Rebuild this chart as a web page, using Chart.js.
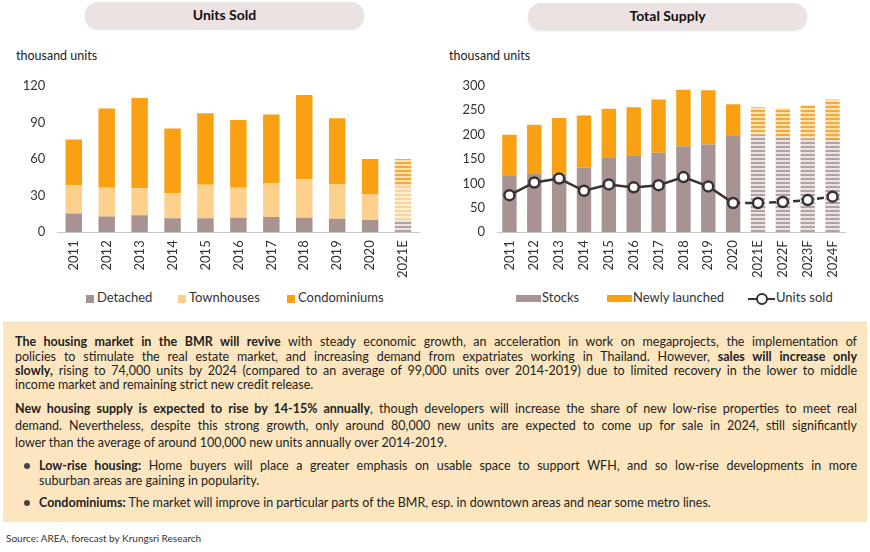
<!DOCTYPE html>
<html>
<head>
<meta charset="utf-8">
<script src="https://cdn.jsdelivr.net/npm/chart.js@4.4.0/dist/chart.umd.min.js"></script>
<style>
  body { margin: 0; width: 870px; height: 552px; background: #fff; font-family: Lato, "Open Sans", sans-serif; color: #222; position: relative; overflow: hidden; }
  .pill { position: absolute; height: 26px; border-radius: 13px; background: #ebe2e1; box-shadow: 0 2px 2px rgba(0,0,0,0.12); font-weight: bold; font-size: 14px; text-align: center; line-height: 26px; color: #111; }
  .unit { position: absolute; font-size: 12.5px; color: #222; }
  .box { position: absolute; }
  .legend { position: absolute; font-size: 13px; color: #333; white-space: nowrap; }
  .legend span.sw { display: inline-block; vertical-align: middle; margin-right: 3px; }
  .panel { position: absolute; left: 3px; top: 322px; width: 864px; height: 199px; background: #fde6bf; border-top: 1px solid #efdcc0; }
  .ln { position: absolute; white-space: nowrap; font-size: 12.5px; }
  .just { text-align-last: justify; text-align: justify; }
  .dot { position: absolute; width: 6px; height: 6px; border-radius: 3px; background: #444; }
  .src { position: absolute; left: 6px; top: 532px; font-size: 10px; color: #333; }
</style>
</head>
<body>
<div class="pill" style="left:85px; top:2px; width:279px;">Units Sold</div>
<div class="pill" style="left:528px; top:3px; width:279px;">Total Supply</div>
<div class="unit" style="left:16px; top:48px;">thousand units</div>
<div class="unit" style="left:449px; top:48px;">thousand units</div>

<div class="box" style="left:0; top:66px; width:430px; height:214px;"><canvas id="soldChart"></canvas></div>
<div class="box" style="left:435px; top:66px; width:435px; height:214px;"><canvas id="supplyChart"></canvas></div>

<div class="legend" style="left:86px; top:289px;"><span class="sw" style="width:8px;height:8px;background:#a89393;"></span>Detached</div>
<div class="legend" style="left:178px; top:289px;"><span class="sw" style="width:8px;height:8px;background:#fdd08c;"></span>Townhouses</div>
<div class="legend" style="left:287px; top:289px;"><span class="sw" style="width:8px;height:8px;background:#f9a013;"></span>Condominiums</div>

<div class="legend" style="left:516px; top:289px;"><span class="sw" style="width:25px;height:7px;background:#a89393;margin-right:1px;"></span>Stocks</div>
<div class="legend" style="left:607px; top:289px;"><span class="sw" style="width:25px;height:7px;background:#f9a013;margin-right:1px;"></span>Newly launched</div>
<div class="legend" style="left:748px; top:289px;"><span class="sw" style="width:27px;height:16px;margin-right:1px;position:relative;"><span style="position:absolute;left:0;top:7px;width:27px;height:2.5px;background:#3a3232;"></span><span style="position:absolute;left:8px;top:2px;width:8px;height:8px;border:2.5px solid #3a3232;border-radius:7px;background:#fff;"></span></span>Units sold</div>

<div class="panel"></div>
<div class="ln just" style="left:15px; top:334px; width:842px;"><b>The housing market in the BMR will revive</b> with steady economic growth, an acceleration in work on megaprojects, the implementation of</div>
<div class="ln just" style="left:15px; top:349px; width:842px;">policies to stimulate the real estate market, and increasing demand from expatriates working in Thailand. However, <b>sales will increase only</b></div>
<div class="ln just" style="left:15px; top:363px; width:842px;"><b>slowly,</b> rising to 74,000 units by 2024 (compared to an average of 99,000 units over 2014-2019) due to limited recovery in the lower to middle</div>
<div class="ln" style="left:15px; top:377px;">income market and remaining strict new credit release.</div>

<div class="ln just" style="left:15px; top:401px; width:842px;"><b>New housing supply is expected to rise by 14-15% annually</b>, though developers will increase the share of new low-rise properties to meet real</div>
<div class="ln just" style="left:15px; top:418px; width:842px;">demand. Nevertheless, despite this strong growth, only around 80,000 new units are expected to come up for sale in 2024, still significantly</div>
<div class="ln" style="left:15px; top:435px;">lower than the average of around 100,000 new units annually over 2014-2019.</div>

<div class="dot" style="left:24px; top:463px;"></div>
<div class="ln just" style="left:39px; top:458px; width:818px;"><b>Low-rise housing:</b> Home buyers will place a greater emphasis on usable space to support WFH, and so low-rise developments in more</div>
<div class="ln" style="left:39px; top:473px;">suburban areas are gaining in popularity.</div>
<div class="dot" style="left:24px; top:500px;"></div>
<div class="ln" style="left:39px; top:495px;"><b>Condominiums:</b> The market will improve in particular parts of the BMR, esp. in downtown areas and near some metro lines.</div>

<div class="src">Source: AREA, forecast by Krungsri Research</div>

<script>
var soldYears = ["2011", "2012", "2013", "2014", "2015", "2016", "2017", "2018", "2019", "2020", "2021E"];
var detached = [15.5, 13, 14, 11.5, 11.5, 12, 12.5, 12, 11, 10, 10];
var townhouses = [23, 23.5, 22, 20.5, 27.5, 24.5, 27.5, 31.5, 28.5, 21, 28];
var condominiums = [37.5, 65, 74, 53, 58.5, 55.5, 56.5, 69, 54, 29, 22];
var soldTicks = [0, 30, 60, 90, 120];

var supplyYears = ["2011", "2012", "2013", "2014", "2015", "2016", "2017", "2018", "2019", "2020", "2021E", "2022F", "2023F", "2024F"];
var stocks = [117, 121, 120, 132, 152, 156, 163, 176, 180, 197, 200, 193, 192, 191];
var newlyLaunched = [83, 99, 114, 107, 101, 100, 109, 116, 111, 65, 56, 61, 68, 81];
var unitsSold = [76, 102, 110, 85, 98, 92, 96.5, 113, 94, 60, 60, 62, 66, 73];
var supplyTicks = [0, 50, 100, 150, 200, 250, 300];

// fit the justified lines: squeeze letters when the font runs wider than the box
document.querySelectorAll(".ln.just").forEach(function (el) {
    var w = parseFloat(el.style.width);
    var probe = document.createElement("span");
    probe.innerHTML = el.innerHTML;
    probe.style.cssText = "position:absolute;visibility:hidden;white-space:nowrap;font-size:12.5px;";
    document.body.appendChild(probe);
    var natural = probe.getBoundingClientRect().width;
    var chars = probe.textContent.length;
    document.body.removeChild(probe);
    if (natural > w - 4) {
        el.style.letterSpacing = ((w - 4 - natural) / chars) + "px";
    }
});

function stripes(color, light) {
    var c = document.createElement("canvas");
    c.width = 4; c.height = 4;
    var g = c.getContext("2d");
    g.fillStyle = light; g.fillRect(0, 0, 4, 4);
    g.fillStyle = color; g.fillRect(0, 0, 4, 2);
    return g.createPattern(c, "repeat");
}

var TAUPE = "#a89393", LIGHT = "#fdd08c", ORANGE = "#f9a013";
var taupeStripe = stripes("#b3a2a2", "#ebe3e3");
var lightStripe = stripes("#fdd39a", "#fff0da");
var orangeStripe = stripes("#f9a834", "#fde2b5");

function fill(color, pattern, from) {
    return function (ctx) { return ctx.dataIndex >= from ? pattern : color; };
}

Chart.defaults.font.family = "Lato, 'Open Sans', sans-serif";
Chart.defaults.font.size = 13;
Chart.defaults.color = "#333";

function axes(ticks, yWidth) {
    return {
        x: {
            stacked: true,
            grid: { display: false, drawTicks: false },
            border: { color: "#c8c8c8" },
            ticks: { minRotation: 90, maxRotation: 90, padding: 8, autoSkip: false },
            afterFit: function (s) { s.height = 47.7; }
        },
        y: {
            stacked: true,
            min: 0,
            max: ticks[ticks.length - 1],
            afterBuildTicks: function (s) { s.ticks = ticks.map(function (v) { return { value: v }; }); },
            grid: { display: false, drawTicks: false },
            border: { display: false },
            ticks: { padding: 12 },
            afterFit: function (s) { s.width = yWidth; }
        }
    };
}

new Chart(document.getElementById("soldChart"), {
    type: "bar",
    data: {
        labels: soldYears,
        datasets: [
            { label: "Detached", data: detached, backgroundColor: fill(TAUPE, taupeStripe, 10) },
            { label: "Townhouses", data: townhouses, backgroundColor: fill(LIGHT, lightStripe, 10) },
            { label: "Condominiums", data: condominiums, backgroundColor: fill(ORANGE, orangeStripe, 10) }
        ]
    },
    options: {
        responsive: true,
        maintainAspectRatio: false,
        animation: false,
        layout: { padding: { top: 0.6, right: 10.5, left: 0, bottom: 0 } },
        datasets: { bar: { barPercentage: 0.5, categoryPercentage: 1 } },
        plugins: { legend: { display: false }, tooltip: { enabled: false } },
        scales: axes(soldTicks, 57.3)
    }
});

new Chart(document.getElementById("supplyChart"), {
    type: "bar",
    data: {
        labels: supplyYears,
        datasets: [
            {
                type: "line", label: "Units sold", data: unitsSold, order: 0,
                borderColor: "#3a3232", borderWidth: 2.5,
                pointRadius: 5, pointBorderWidth: 2.5, pointBackgroundColor: "#fff", pointBorderColor: "#3a3232",
                segment: { borderDash: function (ctx) { return ctx.p0DataIndex >= 9 ? [7, 5] : undefined; } },
                stack: "line"
            },
            { label: "Stocks", data: stocks, backgroundColor: fill(TAUPE, taupeStripe, 10), order: 1 },
            { label: "Newly launched", data: newlyLaunched, backgroundColor: fill(ORANGE, orangeStripe, 10), order: 1 }
        ]
    },
    options: {
        responsive: true,
        maintainAspectRatio: false,
        animation: false,
        layout: { padding: { top: 1.3, right: 25, left: 0, bottom: 0 } },
        datasets: { bar: { barPercentage: 0.58, categoryPercentage: 1 } },
        plugins: { legend: { display: false }, tooltip: { enabled: false } },
        scales: axes(supplyTicks, 62)
    }
});
</script>
</body>
</html>
